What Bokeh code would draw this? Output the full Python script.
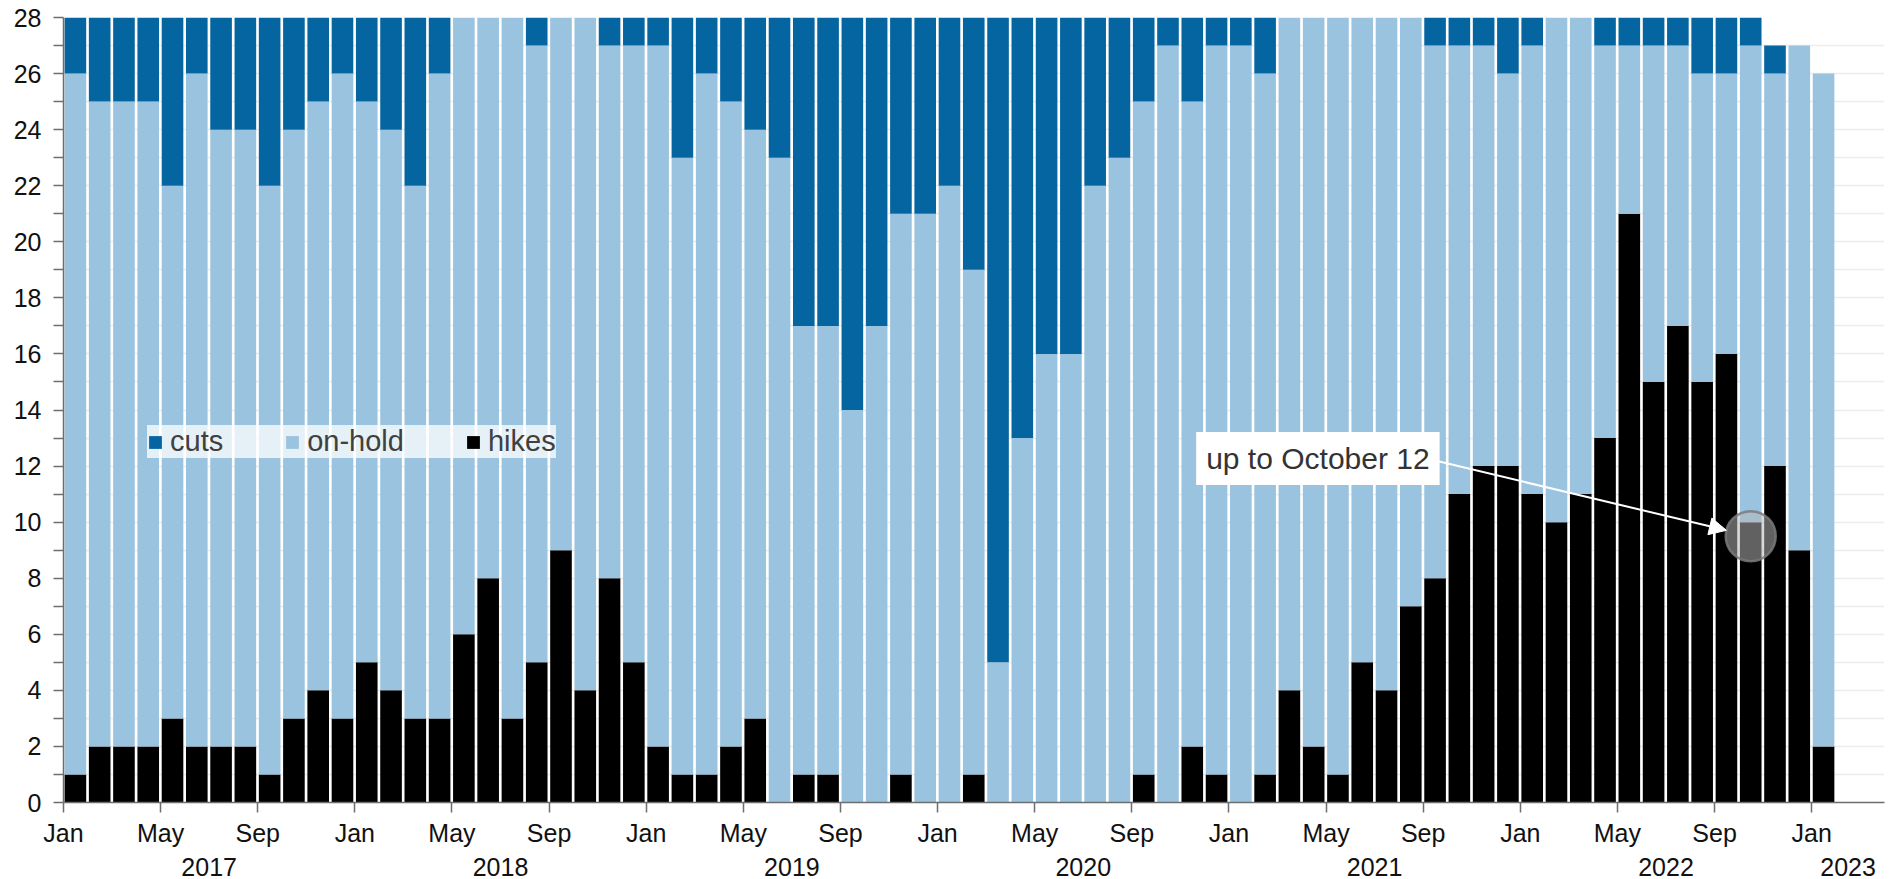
import math
from bokeh.plotting import figure
from bokeh.models import (ColumnDataSource, FixedTicker, LinearAxis, Range1d,
                          Legend, LegendItem, Label, Arrow, NormalHead)
from bokeh.embed import file_html
from bokeh.resources import INLINE

# ---------------- data (monthly, Jan 2017 .. Jan 2023) ----------------
years = [2017, 2018, 2019, 2020, 2021, 2022, 2023]
month_names = ["Jan", "Feb", "Mar", "Apr", "May", "Jun",
               "Jul", "Aug", "Sep", "Oct", "Nov", "Dec"]

hikes = [
    1, 2, 2, 2, 3, 2, 2, 2, 1, 3, 4, 3,          # 2017
    5, 4, 3, 3, 6, 8, 3, 5, 9, 4, 8, 5,          # 2018
    2, 1, 1, 2, 3, 0, 1, 1, 0, 0, 1, 0,          # 2019
    0, 1, 0, 0, 0, 0, 0, 0, 1, 0, 2, 1,          # 2020
    0, 1, 4, 2, 1, 5, 4, 7, 8, 11, 12, 12,       # 2021
    11, 10, 11, 13, 21, 15, 17, 15, 16, 10, 12, 9,  # 2022
    2,                                           # 2023
]
on_hold = [
    25, 23, 23, 23, 19, 24, 22, 22, 21, 21, 21, 23,
    20, 20, 19, 23, 22, 20, 25, 22, 19, 24, 19, 22,
    25, 22, 25, 23, 21, 23, 16, 16, 14, 17, 20, 21,
    22, 18, 5, 13, 16, 16, 22, 23, 24, 27, 23, 26,
    27, 25, 24, 26, 27, 23, 24, 21, 19, 16, 15, 14,
    16, 18, 17, 14, 6, 12, 10, 11, 10, 17, 14, 18,
    24,
]
cuts = [
    2, 3, 3, 3, 6, 2, 4, 4, 6, 4, 3, 2,
    3, 4, 6, 2, 0, 0, 0, 1, 0, 0, 1, 1,
    1, 5, 2, 3, 4, 5, 11, 11, 14, 11, 7, 7,
    6, 9, 23, 15, 12, 12, 6, 5, 3, 1, 3, 1,
    1, 2, 0, 0, 0, 0, 0, 0, 1, 1, 1, 2,
    1, 0, 0, 1, 1, 1, 1, 2, 2, 1, 1, 0,
    0,
]
series_labels = ["cuts", "on-hold", "hikes"]
annotation_text = "up to October 12"
highlight_month = (2022, "Oct")

n = len(hikes)
month_idx = list(range(n))
x_center = [i + 0.49 for i in month_idx]

CUTS_C = "#0565a0"
HOLD_C = "#9ac3df"
HIKE_C = "#000000"
FONT = "Liberation Sans"

src = ColumnDataSource(dict(x=x_center, hikes=hikes, on_hold=on_hold, cuts=cuts))

X_END = 75.0
p = figure(width=1892, height=879, output_backend="svg", toolbar_location=None,
           x_range=Range1d(0, X_END), y_range=Range1d(0, 28),
           min_border_left=63, min_border_right=8, min_border_top=17,
           min_border_bottom=77)
p.outline_line_color = None
p.background_fill_color = "white"
p.border_fill_color = "white"

rs = p.vbar_stack(["hikes", "on_hold", "cuts"], x="x", width=0.89, source=src,
                  fill_color=[HIKE_C, HOLD_C, CUTS_C], line_color=None)
r_hikes, r_hold, r_cuts = rs

# ---------------- axes ----------------
xa = p.xaxis[0]
major = list(range(0, n, 4))
xa.ticker = FixedTicker(ticks=major, minor_ticks=[])
xa.major_label_overrides = {i: month_names[i % 12] for i in major}
xa.major_tick_out = 10
xa.major_tick_in = 0
xa.minor_tick_out = 0
xa.minor_tick_in = 0
xa.major_label_standoff = 6
xa.major_label_text_font = FONT
xa.major_label_text_font_size = "25px"
xa.major_label_text_color = "#111111"
xa.axis_line_color = "#6e6e6e"
xa.axis_line_width = 1.5
xa.major_tick_line_color = "#6e6e6e"
xa.major_tick_line_width = 1.5

year_pos = []
for k, yv in enumerate(years):
    start = 12 * k
    end = min(12 * (k + 1), X_END)
    year_pos.append((start + end) / 2)
year_axis = LinearAxis(ticker=FixedTicker(ticks=year_pos, minor_ticks=[]),
                       major_label_overrides={pos: str(yv) for pos, yv in zip(year_pos, years)})
year_axis.axis_line_color = None
year_axis.major_tick_line_color = None
year_axis.minor_tick_line_color = None
year_axis.major_label_standoff = 2
year_axis.major_label_text_font = FONT
year_axis.major_label_text_font_size = "25px"
year_axis.major_label_text_color = "#111111"
p.add_layout(year_axis, "below")

ya = p.yaxis[0]
ya.ticker = FixedTicker(ticks=list(range(0, 29, 2)), minor_ticks=list(range(1, 28, 2)))
ya.major_tick_out = 10
ya.major_tick_in = 0
ya.minor_tick_out = 10
ya.minor_tick_in = 0
ya.major_label_standoff = 12
ya.major_label_text_font = FONT
ya.major_label_text_font_size = "25px"
ya.major_label_text_color = "#111111"
ya.axis_line_color = "#6e6e6e"
ya.axis_line_width = 1.5
ya.major_tick_line_color = "#6e6e6e"
ya.minor_tick_line_color = "#6e6e6e"
ya.major_tick_line_width = 1.5
ya.minor_tick_line_width = 1.5

p.xgrid.grid_line_color = None
p.ygrid.ticker = FixedTicker(ticks=list(range(0, 29, 1)))
p.ygrid.grid_line_color = "#ececec"
p.ygrid.grid_line_width = 1.5

# ---------------- legend ----------------
legend = Legend(items=[LegendItem(label=series_labels[0], renderers=[r_cuts]),
                       LegendItem(label=series_labels[1], renderers=[r_hold]),
                       LegendItem(label=series_labels[2], renderers=[r_hikes])],
                orientation="horizontal", location=(84, 344),
                glyph_width=16, glyph_height=16, label_standoff=7, spacing=61,
                padding=3, margin=0, label_height=29,
                label_text_font=FONT, label_text_font_size="29px",
                label_text_color="#404040",
                background_fill_color="white", background_fill_alpha=0.75,
                border_line_color=None)
p.add_layout(legend, "center")

# ---------------- annotation ----------------
hi = years.index(highlight_month[0]) * 12 + month_names.index(highlight_month[1])
cx = x_center[hi]
cy = hikes[hi] - 0.5

px_x = 1821.0 / X_END
px_y = 785.0 / 28

lab_x, lab_y = 46.65, 12.27
p.add_layout(Label(x=lab_x, y=lab_y, text=annotation_text, text_align="left",
                   text_baseline="middle", text_font=FONT, text_font_size="30px",
                   text_color="#333333", background_fill_color="white",
                   padding=10))

sx0, sy0 = 56.62, 12.17
dxp = (cx - sx0) * px_x
dyp = (cy - sy0) * px_y
L = math.hypot(dxp, dyp)
back = 25.0
ex = cx - dxp / L * back / px_x
ey = cy - dyp / L * back / px_y
p.add_layout(Arrow(x_start=sx0, y_start=sy0, x_end=ex, y_end=ey,
                   line_color="white", line_width=2,
                   end=NormalHead(size=17, fill_color="white", line_color="white")))

p.scatter(x=[cx], y=[cy], size=50, marker="circle", fill_color="#b7b7b7",
          fill_alpha=0.53, line_color="#7a7a7a", line_alpha=0.85, line_width=2.5)

open("out.html", "w").write(file_html(p, INLINE))
